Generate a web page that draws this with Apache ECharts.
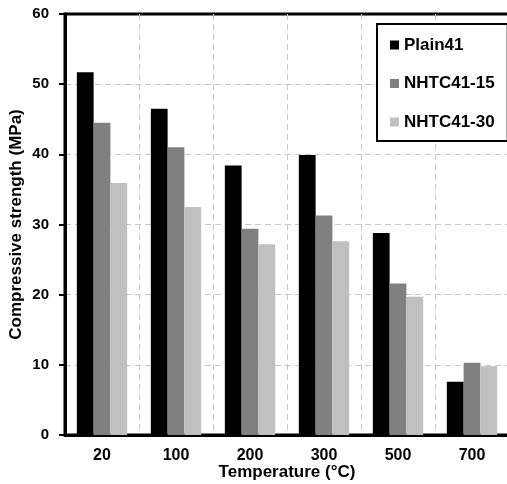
<!DOCTYPE html>
<html><head><meta charset="utf-8">
<script src="https://cdn.jsdelivr.net/npm/echarts@6/dist/echarts.min.js"></script>
<style>html,body{margin:0;padding:0;background:#fff}#c{width:507px;height:484px}</style>
</head><body><div id="c"></div>
<script>
var categories = ['20', '100', '200', '300', '500', '700'];
var plain41 = [51.7, 46.5, 38.4, 39.9, 28.8, 7.6];
var nhtc15 = [44.5, 41.0, 29.4, 31.3, 21.6, 10.3];
var nhtc30 = [35.9, 32.5, 27.2, 27.6, 19.7, 9.8];
var yTicks = { min: 0, max: 60, interval: 10 };

var font = 'Arial, "Liberation Sans", sans-serif';
var chart = echarts.init(document.getElementById('c'), null, { renderer: 'canvas' });
chart.setOption({
  animation: false,
  backgroundColor: '#fff',
  grid: { left: 65, right: -2, top: 14, bottom: 49, show: true, borderColor: '#000', borderWidth: 3, containLabel: false, outerBoundsMode: 'none' },
  legend: {
    orient: 'vertical', left: 377, top: 24,
    padding: [12.5, 13, 10.5, 13], itemGap: 21.5, itemWidth: 9, itemHeight: 9,
    icon: 'rect',
    backgroundColor: '#fff', borderColor: '#000', borderWidth: 2,
    textStyle: { fontFamily: font, fontWeight: 'bold', fontSize: 17, color: '#000' }
  },
  xAxis: {
    type: 'category', data: categories,
    name: 'Temperature (°C)', nameLocation: 'middle', nameGap: 29, nameMoveOverlap: false,
    nameTextStyle: { fontFamily: font, fontWeight: 'bold', fontSize: 17, color: '#000' },
    axisLine: { lineStyle: { color: '#000', width: 3 } },
    axisTick: { show: false },
    axisLabel: { fontFamily: font, fontWeight: 'bold', fontSize: 16, color: '#000', margin: 13 },
    splitLine: { show: true, lineStyle: { color: '#c8c8c8', type: [6, 4], width: 1 } }
  },
  yAxis: {
    type: 'value', min: yTicks.min, max: yTicks.max, interval: yTicks.interval,
    name: 'Compressive strength (MPa)', nameLocation: 'middle', nameGap: 40, nameRotate: 90, nameMoveOverlap: false,
    nameTextStyle: { fontFamily: font, fontWeight: 'bold', fontSize: 17, color: '#000' },
    axisLine: { show: true, lineStyle: { color: '#000', width: 3 } },
    axisTick: { show: true, inside: false, length: 6, lineStyle: { color: '#000', width: 2 } },
    axisLabel: { fontFamily: font, fontWeight: 'bold', fontSize: 15, color: '#000', margin: 16 },
    splitLine: { show: true, showMaxLine: false, showMinLine: false, lineStyle: { color: '#c8c8c8', type: [6, 4], width: 1 } }
  },
  series: [
    { name: 'Plain41', type: 'bar', data: plain41, barGap: '0%', barCategoryGap: '32%', itemStyle: { color: '#000' } },
    { name: 'NHTC41-15', type: 'bar', data: nhtc15, itemStyle: { color: '#808080' } },
    { name: 'NHTC41-30', type: 'bar', data: nhtc30, itemStyle: { color: '#c0c0c0' } }
  ]
});
</script></body></html>
